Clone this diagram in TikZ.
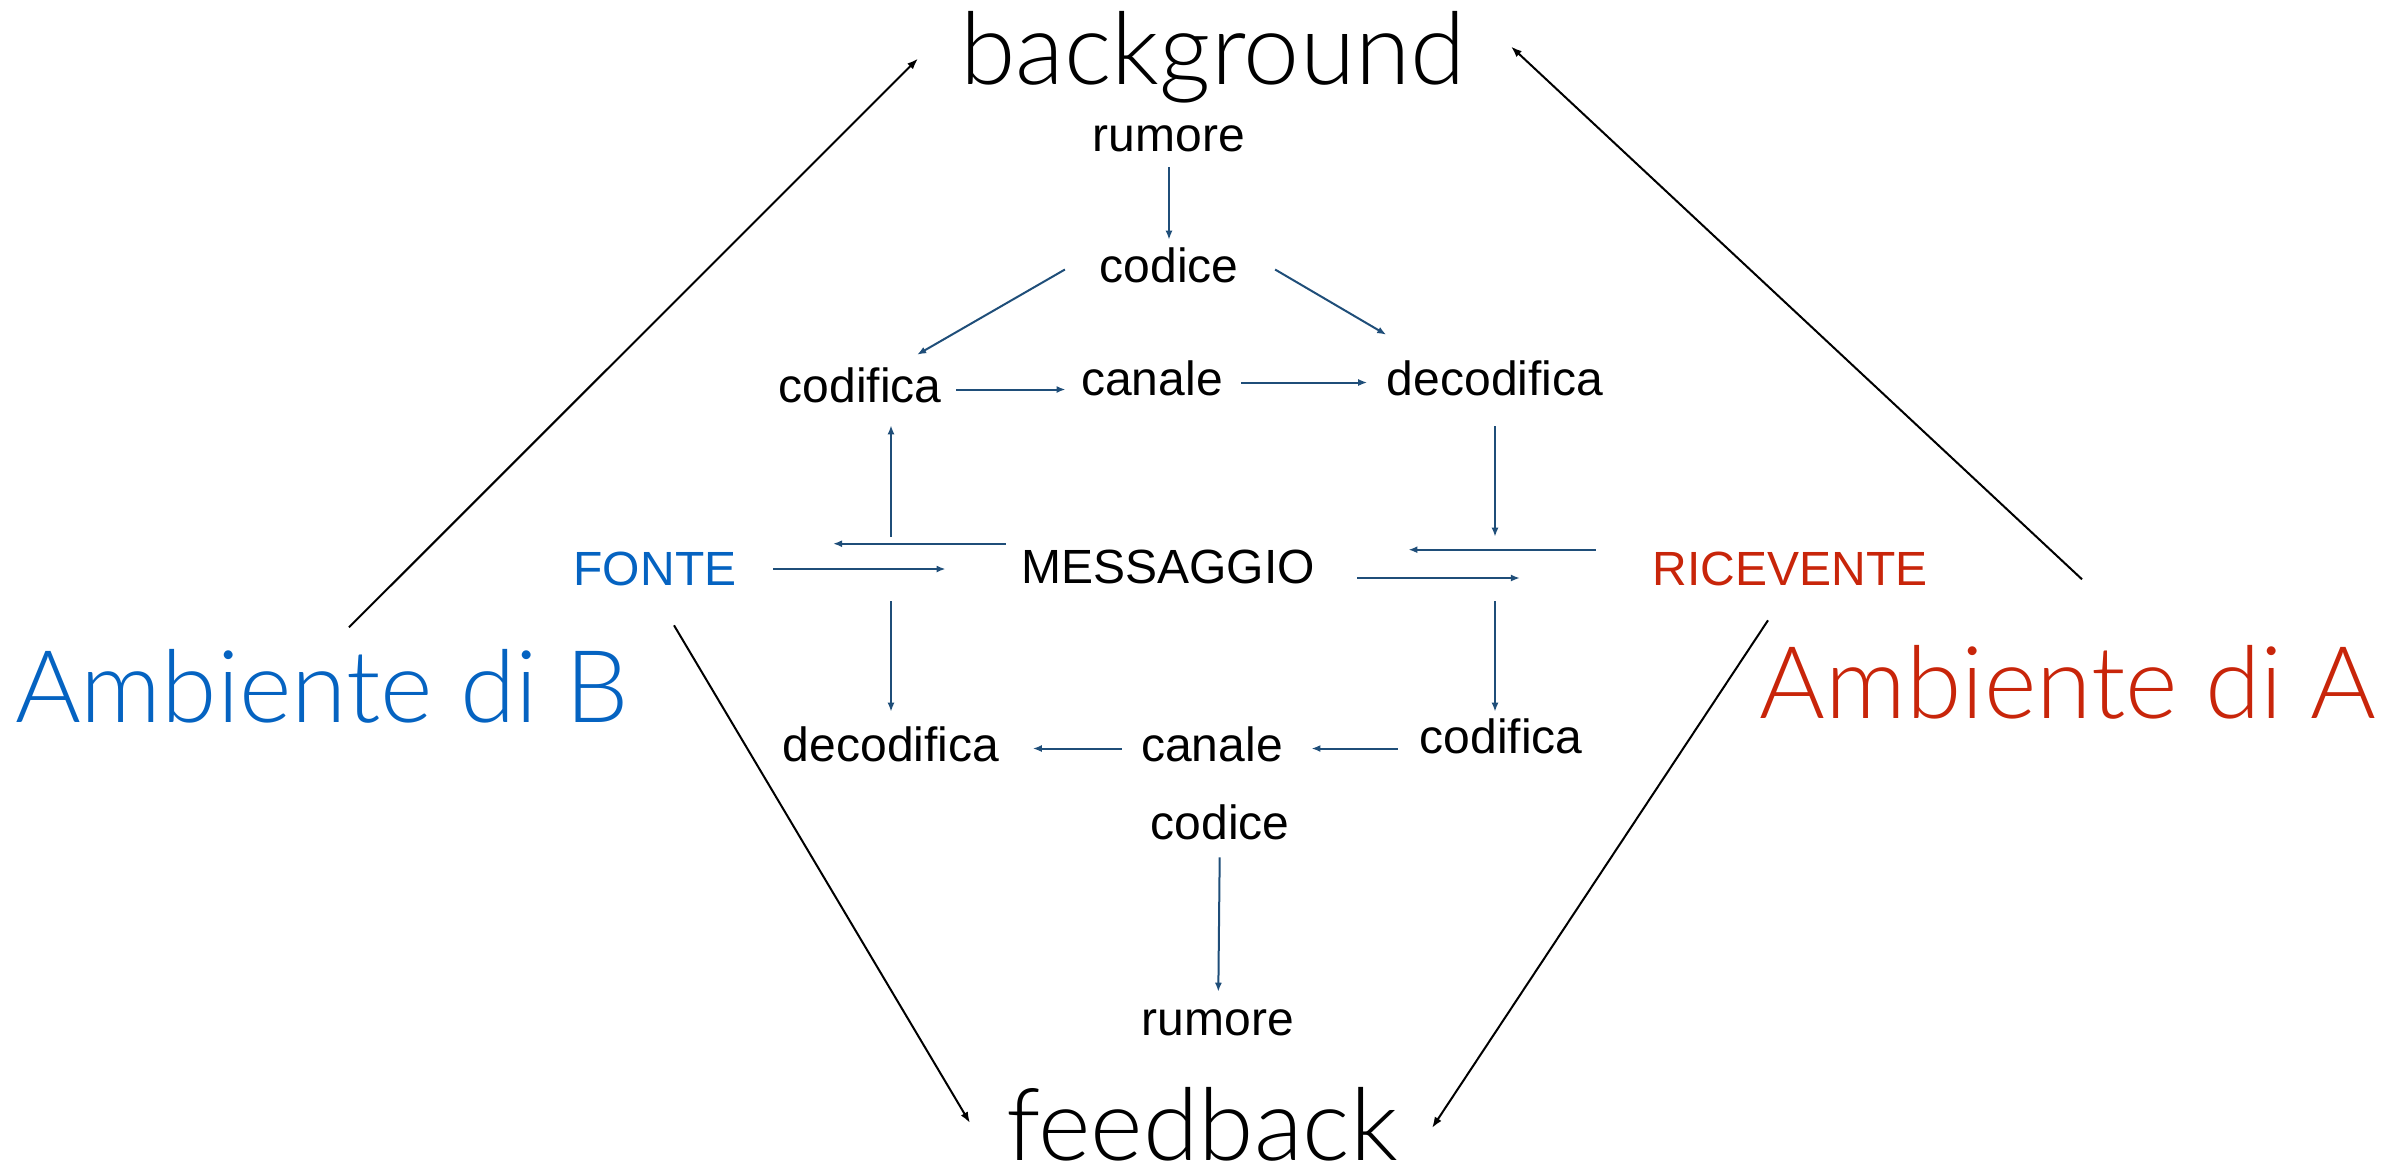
\documentclass[tikz,border=0pt]{standalone}
\usepackage{fontspec}
\setmainfont{Liberation Sans}
\newfontfamily\thinfont{Lato Light}
\usetikzlibrary{arrows.meta}

\definecolor{fonteblue}{HTML}{0563C1}
\definecolor{ricred}{HTML}{C8250A}
\definecolor{flowblue}{HTML}{1F4E79}

\tikzset{
  word/.style={anchor=base,inner sep=0pt,font=\fontsize{13.66}{16}\selectfont,
    text height=3.46mm,text depth=0.96mm},
  bigword/.style={anchor=base,inner sep=0pt,font=\thinfont\fontsize{28.6}{32}\selectfont,
    text height=7mm,text depth=1.9mm},
  flow/.style={draw=flowblue,line width=0.2mm,-{Latex[length=0.9mm,width=0.7mm]}},
  link/.style={draw=black,line width=0.2mm,-{Latex[length=1.1mm,width=0.8mm]}}
}

\begin{document}
\begin{tikzpicture}[x=0.1mm,y=-0.1mm]
\useasboundingbox (0,0) rectangle (2400,1173);

% titoli
\node[bigword] (background) at (1213,84) {background};
\node[bigword,text depth=0pt] (feedback) at (1202,1160) {feedback};
\node[bigword,text=fonteblue] (ambB) at (322,722) {Ambiente di B};
\node[bigword,text=ricred] (ambA) at (2068,718) {Ambiente di A};

% parte alta
\node[word] (rumoreA) at (1169,151) {rumore};
\node[word] (codiceA) at (1169,282) {codice};
\node[word] (codificaA) at (860,402) {codifica};
\node[word] (canaleA) at (1152,395) {canale};
\node[word] (decodificaA) at (1495,395) {decodifica};

% centro
\node[word,text=fonteblue] (fonte) at (655,585) {FONTE};
\node[word] (messaggio) at (1168,583) {MESSAGGIO};
\node[word,text=ricred] (ricevente) at (1790,585) {RICEVENTE};

% parte bassa
\node[word] (decodificaB) at (891,761) {decodifica};
\node[word] (canaleB) at (1212,761) {canale};
\node[word] (codificaB) at (1501,753) {codifica};
\node[word] (codiceB) at (1220,839) {codice};
\node[word] (rumoreB) at (1218,1035) {rumore};

\draw[flow,shorten <=0.6mm,shorten >=0.7mm] (rumoreA) -- (codiceA);
\draw[flow] ([xshift=-3.4mm]codiceA.west) -- ([xshift=-2.5mm,yshift=1.2mm]codificaA.north east);
\draw[flow] ([xshift=3.6mm]codiceA.east) -- ([yshift=2.5mm]decodificaA.north west);
\draw[flow,shorten <=1.4mm,shorten >=1.5mm] (codificaA.east) -- (codificaA.east -| canaleA.west);
\draw[flow,shorten <=1.8mm,shorten >=1.9mm] (canaleA.east) -- (canaleA.east -| decodificaA.west);

\draw[flow,shorten <=1.1mm,shorten >=1.3mm] (decodificaB |- messaggio.north) -- (decodificaB |- codificaA.south);
\draw[flow,shorten <=1.5mm,shorten >=9.6mm] ([yshift=0.4mm]messaggio.north west) -- ([yshift=0.4mm]messaggio.north west -| fonte.east);
\draw[flow,shorten <=3.6mm,shorten >=7.5mm] ([yshift=0.35mm]fonte.east) -- ([yshift=0.35mm]fonte.east -| messaggio.west);
\draw[flow,shorten <=2.1mm,shorten >=1.3mm] (decodificaA) -- (decodificaA |- ricevente.north);
\draw[flow,shorten <=5.6mm,shorten >=9.3mm] (ricevente.north west) -- (ricevente.north west -| messaggio.east);
\draw[flow,shorten <=4.2mm,shorten >=13.2mm] ([yshift=-0.75mm]messaggio.east) -- ([yshift=-0.75mm]messaggio.east -| ricevente.west);
\draw[flow,shorten <=0.8mm,shorten >=1.4mm] (decodificaB |- messaggio.south) -- (decodificaB);
\draw[flow,shorten <=0.8mm,shorten >=0.6mm] (decodificaA |- messaggio.south) -- (decodificaA |- codificaB.north);

\draw[flow,shorten <=2.1mm,shorten >=2.8mm] (canaleB.east -| codificaB.west) -- (canaleB.east);
\draw[flow,shorten <=1.9mm,shorten >=3.3mm] (canaleB) -- (decodificaB);
\draw[flow,shorten <=0.8mm,shorten >=0.8mm] (codiceB) -- (rumoreB);

% ambienti
\draw[link] ([shift={(27,-24)}]ambB.north) -- ([xshift=-29.5mm]background.center);
\draw[link] ([shift={(14,-68)}]ambA.north) -- ([shift={(298,-12)}]background.center);
\draw[link] ([shift={(19,30)}]fonte.south) -- ([shift={(-232,-2)}]feedback.center);
\draw[link] ([shift={(-22,25)}]ricevente.south) -- ([shift={(230,3)}]feedback.center);

\end{tikzpicture}
\end{document}
